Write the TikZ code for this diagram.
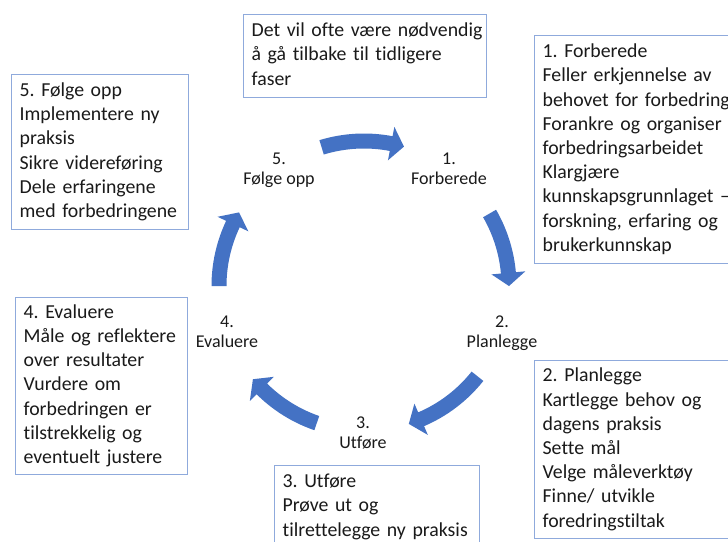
\documentclass[tikz,border=0pt]{standalone}
\usepackage{fontspec}
\setmainfont{Carlito}[Ligatures=NoCommon]
\frenchspacing
\usetikzlibrary{calc}
\definecolor{boxline}{HTML}{8FAADC}
\definecolor{arrowblue}{HTML}{4472C4}
\definecolor{txt}{HTML}{1A1A1A}
\newcommand\cyclearrow[2]{%
  \pgfmathsetmacro\arrowhb{#2+5.2}%
  \fill[arrowblue] ($(c)+(#1:152.5)$) arc[start angle=#1, end angle=\arrowhb, radius=152.5]
    -- ($(c)+(\arrowhb:162)$) -- ($(c)+(#2:145)$) -- ($(c)+(\arrowhb:128)$)
    -- ($(c)+(\arrowhb:137.5)$) arc[start angle=\arrowhb, end angle=#1, radius=137.5] -- cycle;}
\newcommand\bxl[1]{\mbox{#1}}
\begin{document}
\begin{tikzpicture}[x=1pt,y=1pt,
  infobox/.style={draw=boxline, line width=1.3pt, fill=white, anchor=north west,
    align=left, inner xsep=8pt, inner ysep=0pt, text=txt,
    font=\fontsize{19.8pt}{24.2pt}\selectfont},
  stage/.style={align=center, text=txt, inner sep=0pt,
    font=\fontsize{18pt}{20pt}\selectfont}]
\useasboundingbox (0,0) rectangle (728,-541);
\clip (0,0) rectangle (728,-541);
\fill[white] (0,0) rectangle (728,-541);

% boxes
\node[infobox, text width=227pt, minimum height=83pt] (top) at (243,-14)
  {\strut\bxl{Det vil ofte være nødvendig}\\ \bxl{å gå tilbake til tidligere}\\ faser\strut};
\node[infobox, text width=161pt, minimum height=155pt] (b5) at (11,-74)
  {\strut\bxl{5. Følge opp}\\ \bxl{Implementere ny}\\ praksis\\ \bxl{Sikre videreføring}\\ \bxl{Dele erfaringene}\\ \bxl{med forbedringene}\strut};
\node[infobox, text width=156pt, minimum height=177pt] (b4) at (15,-297)
  {\strut\bxl{4. Evaluere}\\ \bxl{Måle og reflektere}\\ \bxl{over resultater}\\ \bxl{Vurdere om}\\ \bxl{forbedringen er}\\ \bxl{tilstrekkelig og}\\ \bxl{eventuelt justere}\strut};
\node[infobox, text width=200pt, minimum height=228pt] (b1) at (534,-35)
  {\strut\bxl{1. Forberede}\\ \bxl{Feller erkjennelse av}\\ \bxl{behovet for forbedring}\\ \bxl{Forankre og organiser}\\ \bxl{forbedringsarbeidet}\\ Klargjære\\ \bxl{kunnskapsgrunnlaget –}\\ \bxl{forskning, erfaring og}\\ brukerkunnskap\strut};
\node[infobox, text width=200pt, minimum height=178pt] (b2) at (534,-360)
  {\strut\bxl{2. Planlegge}\\ \bxl{Kartlegge behov og}\\ \bxl{dagens praksis}\\ \bxl{Sette mål}\\ \bxl{Velge måleverktøy}\\ \bxl{Finne/ utvikle}\\ foredringstiltak\strut};
\node[infobox, text width=189pt, minimum height=83pt] (b3) at (274,-465)
  {\strut\bxl{3. Utføre}\\ \bxl{Prøve ut og}\\ \bxl{tilrettelegge ny praksis}\strut};

% cycle
\coordinate (c) at (364,-286);
\node[stage] (s1) at (449,-170) {\strut 1.\\ Forberede\strut};
\node[stage] (s2) at (502,-333) {\strut 2.\\ Planlegge\strut};
\node[stage] (s3) at (363,-434) {\strut 3.\\ Utføre\strut};
\node[stage] (s4) at (227,-333) {\strut 4.\\ Evaluere\strut};
\node[stage] (s5) at (279,-170) {\strut 5.\\ Følge opp\strut};

\cyclearrow{107}{74}
\cyclearrow{30}{0}
\cyclearrow{-38.5}{-72}
\cyclearrow{-109}{-140}
\cyclearrow{180}{149.5}
\end{tikzpicture}
\end{document}
